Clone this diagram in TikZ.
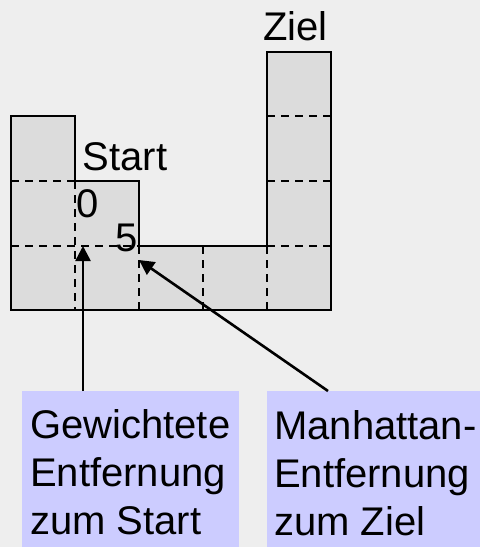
\documentclass[tikz,border=0pt]{standalone}
\usepackage{fontspec}
\setmainfont{Liberation Sans}
\usetikzlibrary{arrows.meta}
\definecolor{bggray}{HTML}{EEEEEE}
\definecolor{cellgray}{HTML}{DCDCDC}
\definecolor{boxblue}{HTML}{CCCCFF}
\begin{document}
\begin{tikzpicture}[x=1pt,y=-1pt,
 outline/.style={line width=2pt, fill=cellgray},
 gridline/.style={line width=2pt, dash pattern=on 7.5pt off 6.5pt},
 lbl/.style={font=\fontsize{40}{48}\selectfont, inner sep=0pt, anchor=base west},
 ptr/.style={line width=2.6pt, -{Triangle[length=15pt,width=15pt]}},
 infobox/.style={fill=boxblue, anchor=north west, inner sep=0pt, minimum height=160pt},
 boxtext/.style={font=\fontsize{40}{48}\selectfont, inner sep=0pt, anchor=north west, align=left}]
\useasboundingbox (0,0) rectangle (480,547);
\fill[bggray] (0,0) rectangle (480,547);
% maze
\draw[outline] (11,116) -- (75,116) -- (75,181) -- (139,181) -- (139,246) -- (267,246)
  -- (267,52) -- (331,52) -- (331,310) -- (11,310) -- cycle;
\draw[gridline] (11,181) -- (75,181);
\draw[gridline] (11,246) -- (139,246);
\draw[gridline] (267,116) -- (331,116);
\draw[gridline] (267,181) -- (331,181);
\draw[gridline] (267,246) -- (331,246);
\draw[gridline] (75,181) -- (75,310);
\draw[gridline] (139,246) -- (139,310);
\draw[gridline] (203,246) -- (203,310);
\draw[gridline] (267,246) -- (267,310);
% labels
\node[lbl] (ziel) at (263,40) {Ziel};
\node[lbl] (start) at (82.5,170) {Start};
\node[lbl] (zero) at (76.5,217) {0};
\node[lbl] (five) at (115.5,251) {5};
% boxes
\node[infobox, minimum width=217pt] (gs) at (22,391) {};
\node[infobox, minimum width=213pt] (mz) at (267,391) {};
\node[boxtext] (gstext) at (30,409) {Gewichtete\\Entfernung\\zum Start};
\node[boxtext] (mztext) at (274,410) {Manhattan-\\Entfernung\\zum Ziel};
% pointers
\coordinate (t0) at (83,246);
\coordinate (t5) at (139,260);
\coordinate (s5) at (328,391);
\draw[ptr] (gs.north -| t0) -- (t0);
\draw[ptr] (s5) -- (t5);
\end{tikzpicture}
\end{document}
